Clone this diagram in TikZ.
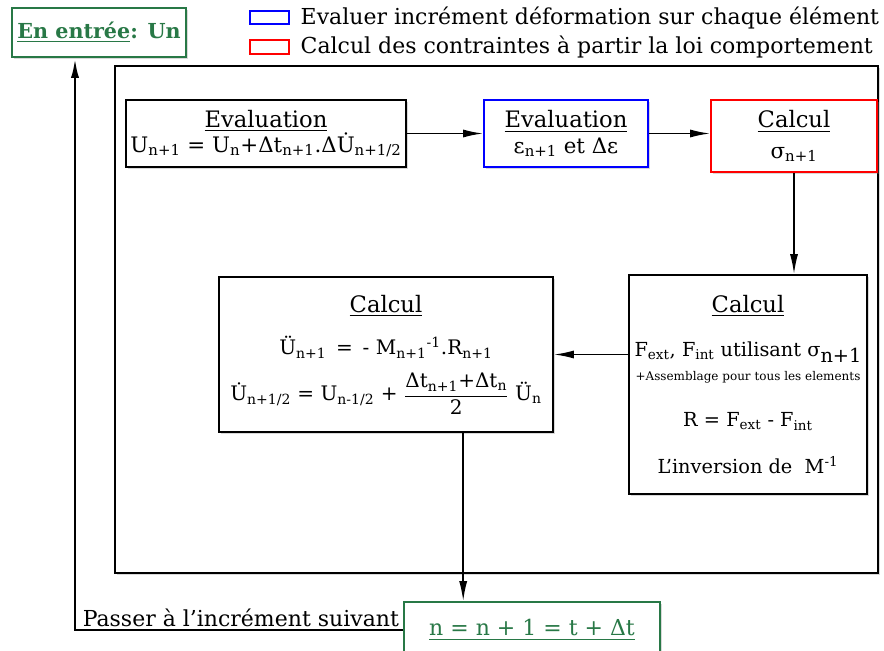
\documentclass[tikz,border=0pt]{standalone}
\usepackage{fontspec}
\usepackage{amsmath}
\setmainfont{DejaVu Serif}
\usetikzlibrary{positioning,shadows,arrows.meta,calc}

\definecolor{dgreen}{RGB}{40,120,70}
\newcommand{\ix}[1]{\textsubscript{#1}}
\newcommand{\ttl}[1]{{\fontsize{17}{20}\selectfont\underline{#1}}}

\tikzset{
  box/.style={draw,line width=1.2pt,fill=white,align=center,
    font=\fontsize{16}{19}\selectfont,
    drop shadow={shadow xshift=1.2pt,shadow yshift=-1.2pt,opacity=0.3}},
  flow/.style={-{Latex[length=15pt,width=6pt]},line width=1.3pt},
  legbox/.style={draw,line width=1.4pt,minimum width=29pt,minimum height=10pt,inner sep=0pt},
  legtext/.style={font=\fontsize{16.5}{19}\selectfont,inner sep=0pt,anchor=west}
}

\begin{document}
\begin{tikzpicture}[x=0.75pt,y=-0.75pt]
\useasboundingbox (0,0) rectangle (884,650);

\draw[line width=1.6pt,drop shadow={shadow xshift=1.2pt,shadow yshift=-1.2pt,opacity=0.3},fill=white] (115,66) rectangle (878,573);

\node[box,draw=dgreen,text=dgreen,font=\fontsize{15.5}{18}\selectfont\bfseries,minimum width=130.5pt,minimum height=36.75pt,inner sep=2pt] (start) at (99,32.5) {\underline{En entrée}: Un};

\node[legbox,draw=blue] (legB) at (269.5,17.5) {};
\node[legtext,right=8pt of legB] (legBt) {Evaluer incrément déformation sur chaque élément};
\node[legbox,draw=red] (legR) at (269.5,47) {};
\node[legtext,right=8pt of legR] (legRt) {Calcul des contraintes à partir la loi comportement};

\node[box,minimum width=208.5pt,minimum height=50.25pt] (evalU) at (266,133.5)
  {\ttl{Evaluation}\\ U\ix{n+1} = U\ix{n}+Δt\ix{n+1}.Δ\.{U}\ix{n+1/2}};
\node[box,draw=blue,minimum width=123pt,minimum height=50.25pt] (evalE) at (566,133.5)
  {\ttl{Evaluation}\\ ε\ix{n+1} et Δε};
\node[box,draw=red,minimum width=124.5pt,minimum height=54pt] (calcS) at (794,136)
  {\ttl{Calcul}\\[4pt] σ\ix{n+1}};

\node[box,font=\fontsize{14.5}{17}\selectfont,minimum width=178.5pt,minimum height=164.25pt] (calcR) at (748,384.5)
  {\ttl{Calcul}\\[16pt]
   F\ix{ext}, F\ix{int} utilisant σ\raisebox{-0.6ex}{n+1}\\[1pt]
   {\fontsize{9}{11}\selectfont +Assemblage pour tous les elements}\\[18pt]
   R = F\ix{ext} - F\ix{int}\\[18pt]
   L'inversion de \ M\textsuperscript{-1}};

\node[box,font=\fontsize{15}{18}\selectfont,minimum width=250.5pt,minimum height=116.25pt] (calcA) at (386,354.5)
  {\ttl{Calcul}\\[14pt]
   \"{U}\ix{n+1} \,=\, - M\ix{n+1}\textsuperscript{-1}.R\ix{n+1}\\[10pt]
   \.{U}\ix{n+1/2} = U\ix{n-1/2} + $\dfrac{\text{Δt\ix{n+1}+Δt\ix{n}}}{\text{2}}$ \"{U}\ix{n}};

\node[box,draw=dgreen,text=dgreen,font=\fontsize{16.5}{19}\selectfont,minimum width=192pt,minimum height=42pt] (next) at (532,630)
  {\underline{n = n + 1 = t + Δt}};

\draw[flow] (evalU.east) -- (evalE.west);
\draw[flow] (evalE.east) -- (evalE.east -| calcS.west);
\draw[flow] (calcS.south) -- (calcS.south |- calcR.north);
\draw[flow] (calcR.west |- calcA.east) -- (calcA.east);
\coordinate (drop) at ($(calcA.south west)!0.73!(calcA.south east)$);
\draw[flow] (drop) -- (drop |- next.north);

\coordinate (loop) at (75,630);
\draw[-{Latex[length=15pt,width=6pt]},line width=2pt] (next.west) -- (loop) -- (loop |- start.south);
\node[anchor=base east,inner sep=0pt,font=\fontsize{16.5}{19}\selectfont] (passer) at ([xshift=-3pt,yshift=3pt]next.west) {Passer à l'incrément suivant};

\end{tikzpicture}
\end{document}
